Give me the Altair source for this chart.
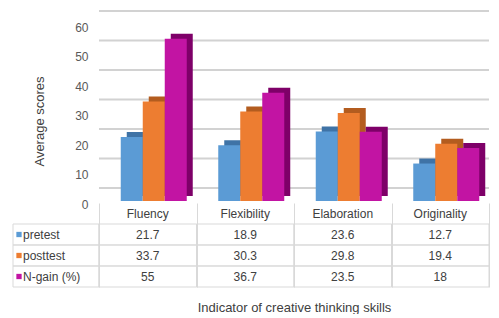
import altair as alt
import pandas as pd

categories = ["Fluency", "Flexibility", "Elaboration", "Originality"]
series_names = ["pretest", "posttest", "N-gain (%)"]
pretest = [21.7, 18.9, 23.6, 12.7]
posttest = [33.7, 30.3, 29.8, 19.4]
ngain = [55, 36.7, 23.5, 18]
y_ticks = [0, 10, 20, 30, 40, 50, 60]

front_colors = ["#5B9BD5", "#ED7D31", "#C214A3"]
side_colors = ["#3F73A6", "#B35C1F", "#7E0068"]
series_values = [pretest, posttest, ngain]

FONT = "Liberation Sans"
TXT = "#404040"
LINE = "#d9d9d9"
GRID = "#d2d2d2"

rows = []
for s, vals in zip(series_names, series_values):
    for c, v in zip(categories, vals):
        rows.append({"cat": c, "series": s, "value": v})
bars_df = pd.DataFrame(rows)

trows = [{"row": "", "cat": c, "text": c} for c in categories]
for s, vals in zip(series_names, series_values):
    for c, v in zip(categories, vals):
        trows.append({"row": s, "cat": c, "text": f"{v:g}"})
table_df = pd.DataFrame(trows)
row_order = [""] + series_names

labels_df = pd.DataFrame({"row": series_names})
grid_df = pd.DataFrame({"value": y_ticks})

BAR_W = 22
offsets = [-16, 6, 28]
DEPTH_X, DEPTH_Y = 6, -5
WALL = -13

xscale = alt.Scale(domain=categories, paddingInner=0, paddingOuter=0)
yaxis = alt.Axis(
    values=y_ticks, labelOffset=3, grid=False,
    domain=False, ticks=False, labelPadding=11,
    labelFont=FONT, labelFontSize=12, labelColor="#595959",
    title="Average scores", titleFont=FONT, titleFontSize=13,
    titleFontWeight="normal", titleColor=TXT, titlePadding=28,
    titleY=97,
)
yscale = alt.Scale(domain=[0, 60], nice=False)
yenc = alt.Y("value:Q", scale=yscale, axis=yaxis)

# gridlines on the back wall, drawn as thin filled bands
gridlines = alt.Chart(grid_df).mark_rect(
    fill=GRID, yOffset=WALL - 1, y2Offset=WALL + 1
).encode(
    y=yenc, y2=alt.Y2("value:Q"),
    x=alt.value(0), x2=alt.value("width"),
)

base = alt.Chart(bars_df).encode(x=alt.X("cat:N", scale=xscale, axis=None), y=yenc)
layers = [gridlines]
for i, s in enumerate(series_names):
    f = base.transform_filter(alt.datum.series == s)
    layers.append(f.mark_bar(width=BAR_W, xOffset=offsets[i] + DEPTH_X,
                             yOffset=DEPTH_Y, color=side_colors[i]))
    layers.append(f.mark_bar(width=BAR_W, xOffset=offsets[i], color=front_colors[i]))
bars = alt.layer(*layers).properties(width=390, height=177)

spacer = alt.Chart(pd.DataFrame({"v": [0]})).mark_point(opacity=0).properties(width=86, height=177)

yrow = alt.Y("row:N", sort=row_order, scale=alt.Scale(domain=row_order, paddingInner=0, paddingOuter=0), axis=None)

tbase = alt.Chart(table_df).encode(
    x=alt.X("cat:N", scale=xscale, axis=alt.Axis(
        labels=False, ticks=False, domain=False, grid=True, tickBand="extent",
        gridColor=LINE, title="Indicator of creative thinking skills",
        titleFont=FONT, titleFontSize=13, titleFontWeight="normal",
        titleColor=TXT, titlePadding=14,
    )),
    y=yrow,
)
cells = tbase.transform_filter(alt.datum.row != "").mark_rect(fillOpacity=0, stroke=LINE, strokeWidth=1)
texts = tbase.mark_text(font=FONT, fontSize=12, color=TXT).encode(text="text:N")
table = alt.layer(cells, texts).properties(width=390, height=84)

lbase = alt.Chart(labels_df).encode(y=yrow)
lcells = lbase.mark_rect(fillOpacity=0, stroke=LINE, strokeWidth=1)
lsq = lbase.mark_square(size=28, opacity=1, filled=True).encode(
    x=alt.value(6),
    color=alt.Color("row:N", scale=alt.Scale(domain=series_names, range=front_colors), legend=None),
)
ltxt = lbase.mark_text(font=FONT, fontSize=12, color=TXT, align="left").encode(
    x=alt.value(10), text="row:N")
labelcol = alt.layer(lcells, lsq, ltxt).properties(width=86, height=84)

chart = alt.concat(
    spacer, bars, labelcol, table, columns=2,
    spacing={"row": 2, "column": 0}, bounds="flush",
).properties(
    padding={"left": 4, "top": 2, "right": 0, "bottom": 0}
).configure_view(stroke=None)

chart.save("out.html", embed_options={"renderer": "svg", "actions": False})
